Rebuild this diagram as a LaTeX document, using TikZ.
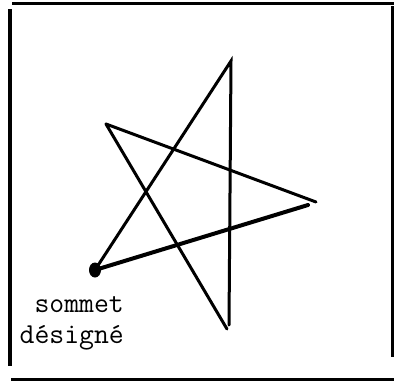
\documentclass[tikz,border=0pt]{standalone}
\tikzset{
  frameline/.style={line width=3bp, black},
  starline/.style={line width=3bp, black, line cap=round},
  labeltext/.style={font=\ttfamily\fontsize{29}{34}\selectfont, inner sep=0pt},
}
\begin{document}
\begin{tikzpicture}[x=1bp,y=-1bp]
\useasboundingbox (0,0) rectangle (394,382);
% frame corners
\coordinate (tl) at (12,3);
\coordinate (tr) at (394,3);
\coordinate (lt) at (10,9);
\coordinate (lb) at (10,366);
\coordinate (rt) at (392,6);
\coordinate (rb) at (392,357);
\coordinate (bl) at (11,379);
\coordinate (br) at (394,379);
\draw[frameline] (tl) -- (tr);
\draw[frameline] (lt) -- (lb);
\draw[frameline] (rt) -- (rb);
\draw[frameline] (bl) -- (br);
% star vertices
\coordinate (dot) at (95,270);
\coordinate (top) at (231,61);
\coordinate (bot) at (229,325);
\coordinate (botb) at (227,329);
\coordinate (ul) at (106,124);
\coordinate (ra) at (316,202);
\coordinate (rb2) at (308,205);
\draw[starline] (dot) -- (top) -- (bot);
\draw[starline] (ul) -- (botb);
\draw[starline] (ul) -- (ra);
\draw[starline, line width=4bp] (rb2) -- (dot);
\fill[black] (dot) ellipse [x radius=6bp, y radius=7.5bp];
% label
\node[labeltext, anchor=base east] (l1) at (124,312) {sommet};
\node[labeltext, anchor=base east] (l2) at (124,343) {désigné};
\end{tikzpicture}
\end{document}
